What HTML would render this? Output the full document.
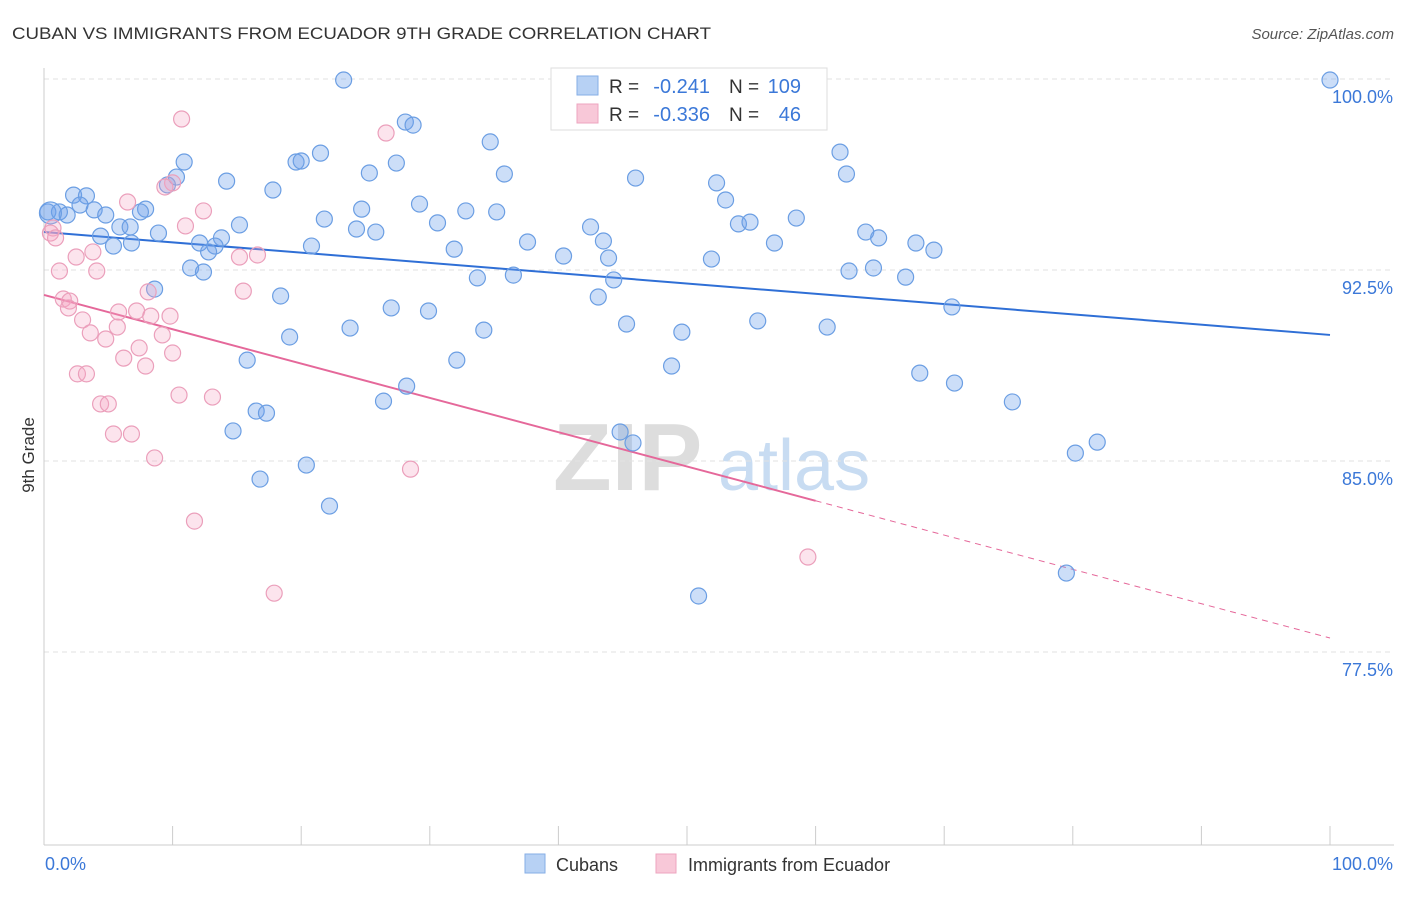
<!DOCTYPE html>
<html><head><meta charset="utf-8"><style>
body{margin:0;background:#fff;font-family:"Liberation Sans",sans-serif}
svg text{font-family:"Liberation Sans",sans-serif}
</style></head><body>
<svg id="chart" width="1406" height="892">
<text x="12" y="39" font-size="17" fill="#333" textLength="699" lengthAdjust="spacingAndGlyphs">CUBAN VS IMMIGRANTS FROM ECUADOR 9TH GRADE CORRELATION CHART</text>
<text x="1394" y="39" font-size="15" fill="#555" text-anchor="end" font-style="italic">Source: ZipAtlas.com</text>
<text x="0" y="0" font-size="17" fill="#333" transform="translate(34,455) rotate(-90)" text-anchor="middle">9th Grade</text>
<g><text x="553" y="490" font-size="96" font-family="Liberation Serif" fill="#ddd" font-weight="bold">ZIP</text><text x="718" y="490" font-size="72" fill="#c8dcf2">atlas</text></g>
<g id="grid"></g><g id="axes"></g><g id="lines"></g><g id="pts"></g>
<g>
<rect x="551" y="68" width="276" height="62" fill="#fff" stroke="#ddd"/>
<rect x="577" y="76" width="21" height="19" fill="#b7d1f4" stroke="#86aee6"/>
<rect x="577" y="104" width="21" height="19" fill="#f8c8d8" stroke="#eea5bf"/>
<text x="609" y="93" font-size="19" fill="#333">R =</text>
<text x="710" y="93" font-size="20" fill="#3b78d8" text-anchor="end">-0.241</text>
<text x="729" y="93" font-size="19" fill="#333">N =</text>
<text x="801" y="93" font-size="20" fill="#3b78d8" text-anchor="end">109</text>
<text x="609" y="121" font-size="19" fill="#333">R =</text>
<text x="710" y="121" font-size="20" fill="#3b78d8" text-anchor="end">-0.336</text>
<text x="729" y="121" font-size="19" fill="#333">N =</text>
<text x="801" y="121" font-size="20" fill="#3b78d8" text-anchor="end">46</text>
</g>
<g>
<rect x="525" y="854" width="20" height="19" fill="#b7d1f4" stroke="#86aee6"/>
<text x="556" y="871" font-size="18" fill="#333">Cubans</text>
<rect x="656" y="854" width="20" height="19" fill="#f8c8d8" stroke="#eea5bf"/>
<text x="688" y="871" font-size="18" fill="#333">Immigrants from Ecuador</text>
</g>
</svg>
<script>
const yTicks=[100,92.5,85,77.5];
const yTickLabels=["100.0%","92.5%","85.0%","77.5%"];
const blueX=[23.3,100,28.1,28.7,34.7,61.9,21.5,10.9,19.6,20.0,27.4,25.3,35.8,46.0,62.4,10.3,14.2,9.6,17.8,52.3,2.3,3.3,29.2,53.0,2.8,3.9,0.3,1.2,1.8,4.8,7.9,7.5,24.7,32.8,35.2,21.8,15.2,30.6,58.5,54.0,54.9,42.5,5.9,6.7,24.3,25.8,8.9,4.4,63.9,64.9,37.6,43.5,56.8,67.8,20.8,12.1,6.8,5.4,13.8,13.3,12.8,31.9,69.2,40.4,43.9,51.9,11.4,12.4,62.6,64.5,33.7,36.5,44.3,67.0,8.6,18.4,43.1,27.0,29.9,70.6,45.3,55.5,23.8,34.2,49.6,60.9,19.1,15.8,32.1,48.8,68.1,70.8,28.2,26.4,75.3,16.5,17.3,14.7,44.8,45.8,81.9,80.2,20.4,16.8,22.2,79.5,50.9,0.5];
const blueY=[99.96,99.96,98.31,98.19,97.53,97.13,97.09,96.74,96.74,96.78,96.70,96.31,96.27,96.11,96.27,96.15,95.99,95.84,95.64,95.92,95.44,95.41,95.09,95.25,95.05,94.86,94.78,94.78,94.66,94.66,94.89,94.78,94.89,94.82,94.78,94.50,94.27,94.35,94.54,94.31,94.38,94.19,94.19,94.19,94.11,93.99,93.95,93.83,93.99,93.76,93.60,93.64,93.56,93.56,93.44,93.56,93.56,93.44,93.76,93.44,93.21,93.32,93.28,93.05,92.97,92.93,92.58,92.42,92.46,92.58,92.19,92.30,92.11,92.22,91.75,91.48,91.44,91.01,90.89,91.05,90.38,90.50,90.22,90.14,90.06,90.26,89.87,88.96,88.96,88.73,88.45,88.06,87.94,87.35,87.32,86.96,86.88,86.18,86.14,85.71,85.74,85.31,84.84,84.29,83.23,80.60,79.70,94.74];
const pinkX=[10.7,26.6,10.0,9.4,6.5,12.4,11.0,0.7,0.5,0.9,2.5,3.8,15.2,16.6,1.2,4.1,15.5,8.1,1.5,2.0,1.9,5.8,7.2,8.3,9.8,3.0,5.7,3.6,4.8,9.2,7.4,10.0,6.2,7.9,2.6,3.3,10.5,13.1,4.4,5.0,5.4,6.8,8.6,28.5,11.7,59.4,17.9];
const pinkY=[98.43,97.88,95.92,95.76,95.17,94.82,94.23,94.15,93.95,93.76,93.01,93.21,93.01,93.09,92.46,92.46,91.67,91.64,91.36,91.28,91.01,90.85,90.89,90.69,90.69,90.54,90.26,90.03,89.79,89.95,89.44,89.24,89.04,88.73,88.42,88.42,87.59,87.51,87.24,87.24,86.06,86.06,85.12,84.68,82.64,81.23,79.81];
const blueTrend=[93.99,89.95];
const pinkTrend=[91.52,78.05];
const pinkSolidEnd=60;
const NS="http://www.w3.org/2000/svg";
const X0=44,X1=1330,Y100=79,PX=191/7.5;
const sx=v=>X0+(X1-X0)*v/100;
const sy=v=>Y100+(100-v)*PX;
function mk(tag,attrs,parent){const e=document.createElementNS(NS,tag);for(const k in attrs)e.setAttribute(k,attrs[k]);parent.appendChild(e);return e;}
const grid=document.getElementById('grid'),axes=document.getElementById('axes'),lines=document.getElementById('lines'),pts=document.getElementById('pts');
yTicks.forEach((t,i)=>{
 const l=mk('line',{x1:X0,x2:1394,y1:sy(t),y2:sy(t),stroke:'#e2e2e2','stroke-dasharray':'5,4'},grid);
 
 
 const tx=mk('text',{x:1393,y:sy(t)+24,'font-size':18,fill:'#3b78d8','text-anchor':'end'},axes);
 tx.textContent=yTickLabels[i];
 
 
});
let a=mk('line',{x1:X0,x2:X0,y1:68,y2:845,stroke:'#ccc'},axes);


a=mk('line',{x1:X0,x2:1394,y1:845,y2:845,stroke:'#ccc'},axes);


for(let i=0;i<=10;i++){const t=mk('line',{x1:sx(i*10),x2:sx(i*10),y1:826,y2:845,stroke:'#ccc'},axes);
 
 }
let xl=mk('text',{x:45,y:870,'font-size':18,fill:'#3b78d8'},axes);xl.textContent='0.0%';


xl=mk('text',{x:1393,y:870,'font-size':18,fill:'#3b78d8','text-anchor':'end'},axes);xl.textContent='100.0%';


const lerp=(a,v)=>a[0]+(a[1]-a[0])*v/100;
let ln=mk('line',{x1:sx(0),y1:sy(blueTrend[0]),x2:sx(100),y2:sy(blueTrend[1]),stroke:'#2f6fd6','stroke-width':2},lines);


ln=mk('line',{x1:sx(0),y1:sy(pinkTrend[0]),x2:sx(pinkSolidEnd),y2:sy(lerp(pinkTrend,pinkSolidEnd)),stroke:'#e5689a','stroke-width':2},lines);


ln=mk('line',{x1:sx(pinkSolidEnd),y1:sy(lerp(pinkTrend,pinkSolidEnd)),x2:sx(100),y2:sy(pinkTrend[1]),stroke:'#e5689a','stroke-width':1,'stroke-dasharray':'6,5'},lines);


blueX.forEach((x,i)=>{const c=mk('circle',{cx:sx(x),cy:sy(blueY[i]),r:i===blueX.length-1?11:8,fill:'rgba(110,160,235,0.35)',stroke:'#6b9ee3','stroke-width':1.2},pts);
 
 });
pinkX.forEach((x,i)=>{const c=mk('circle',{cx:sx(x),cy:sy(pinkY[i]),r:8,fill:'rgba(245,165,195,0.3)',stroke:'#eb9fbb','stroke-width':1.2},pts);
 
 });
</script>
</body></html>
